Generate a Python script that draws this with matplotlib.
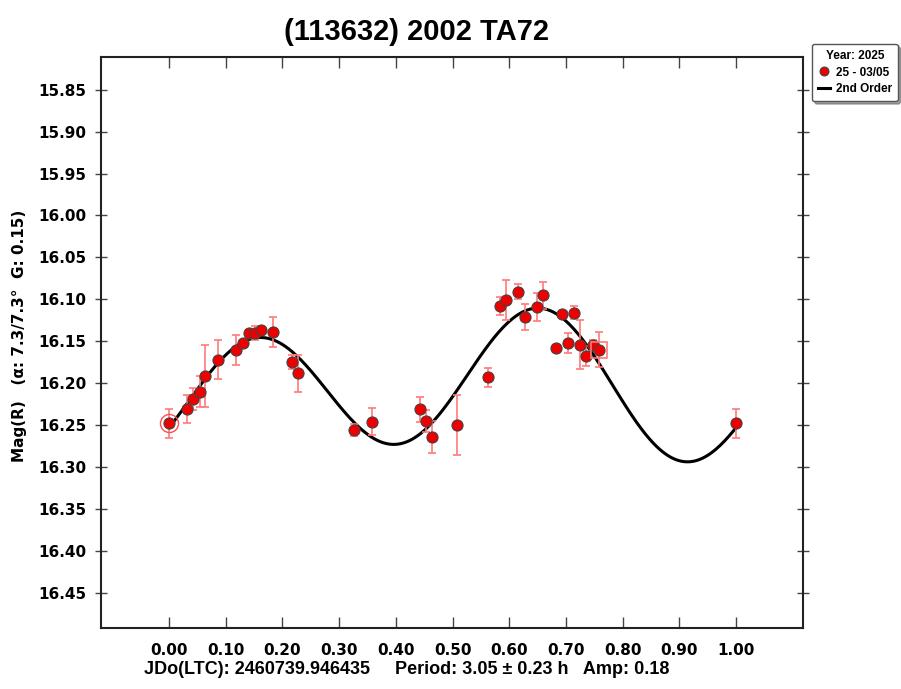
import matplotlib
matplotlib.use("Agg")
import matplotlib.pyplot as plt
import numpy as np

# ── data ──────────────────────────────────────────────────────────────────────
phase = np.array([
    0.000, 0.031, 0.043, 0.054, 0.064, 0.086, 0.118, 0.130, 0.141, 0.152,
    0.163, 0.184, 0.217, 0.228, 0.326, 0.358, 0.442, 0.454, 0.464, 0.508,
    0.562, 0.584, 0.595, 0.616, 0.627, 0.649, 0.660, 0.682, 0.693, 0.703,
    0.714, 0.725, 0.736, 0.747, 0.758, 1.000,
])
mag = np.array([
    16.248, 16.231, 16.219, 16.210, 16.191, 16.172, 16.160, 16.152, 16.140, 16.140,
    16.136, 16.139, 16.175, 16.188, 16.256, 16.246, 16.231, 16.245, 16.264, 16.250,
    16.193, 16.108, 16.101, 16.091, 16.121, 16.109, 16.095, 16.158, 16.118, 16.152,
    16.116, 16.154, 16.168, 16.154, 16.160, 16.248,
])
err = np.array([
    0.017, 0.017, 0.013, 0.018, 0.037, 0.023, 0.018, 0.004, 0.003, 0.008,
    0.004, 0.018, 0.008, 0.022, 0.007, 0.016, 0.015, 0.013, 0.019, 0.036,
    0.011, 0.011, 0.024, 0.009, 0.016, 0.017, 0.016, 0.003, 0.003, 0.012,
    0.008, 0.029, 0.012, 0.006, 0.021, 0.017,
])
xticks = np.arange(0.0, 1.01, 0.1)
yticks = np.arange(15.85, 16.46, 0.05)

title = "(113632) 2002 TA72"
ylabel = "Mag(R)   (α: 7.3/7.3°  G: 0.15)"
footer = "JDo(LTC): 2460739.946435     Period: 3.05 ± 0.23 h   Amp: 0.18"

# ── 2nd order Fourier fit of the points (last point repeats the first) ───────
fit_mask = phase < 1.0
w = 2 * np.pi * phase[fit_mask]
A = np.column_stack([np.ones_like(w), np.cos(w), np.sin(w), np.cos(2 * w), np.sin(2 * w)])
coef, *_ = np.linalg.lstsq(A, mag[fit_mask], rcond=None)
px = np.linspace(0.0, 1.0, 400)
wp = 2 * np.pi * px
fit_curve = (coef[0] + coef[1] * np.cos(wp) + coef[2] * np.sin(wp)
             + coef[3] * np.cos(2 * wp) + coef[4] * np.sin(2 * wp))

# ── figure ───────────────────────────────────────────────────────────────────
fig = plt.figure(figsize=(9.01, 6.89), dpi=100)
ax = fig.add_axes([101 / 901, 1 - 628 / 689, 702 / 901, (628 - 57) / 689])

ln, = ax.plot(px, fit_curve, color="black", lw=2.2, zorder=2)
ax.errorbar(phase, mag, yerr=err, fmt="none", ecolor="#ff7a7a", elinewidth=1.2,
            capsize=3, capthick=1.2, zorder=3)
pts, = ax.plot(phase, mag, "o", color="#ee0000", mec="#444444", mew=0.8, ms=8,
               zorder=4)
# first point circled, last point of the session boxed
ax.plot(phase[0], mag[0], "o", mfc="none", mec="#ff5050", mew=1.0, ms=13, zorder=4)
ax.plot(phase[-2], mag[-2], "s", mfc="none", mec="#ff7a7a", mew=1.2, ms=12, zorder=4)

ax.set_xlim(-0.12, 1.118)
ax.set_ylim(16.492, 15.811)
ax.set_xticks(xticks)
ax.set_yticks(yticks)
ax.set_xticklabels([f"{v:.2f}" for v in xticks])
ax.set_yticklabels([f"{v:.2f}" for v in yticks])
ax.tick_params(axis="both", which="both", labelsize=11, width=1.0, color="#444444")
ax.tick_params(axis="y", direction="inout", length=9, left=True, right=True, pad=6)
ax.tick_params(axis="x", direction="in", length=8, top=True, bottom=True, pad=11)
for lab in ax.get_xticklabels() + ax.get_yticklabels():
    lab.set_fontweight("bold")
for sp in ax.spines.values():
    sp.set_linewidth(1.5)
    sp.set_color("#222222")

fig.text(416 / 901, 1 - 32 / 689, title, ha="center", va="center",
         fontsize=21, fontweight="bold", family="Liberation Sans")
fig.text(20 / 901, 1 - 336 / 689, ylabel, ha="center", va="center", rotation=90,
         fontsize=11, fontweight="bold")
fig.text(144 / 901, 1 - 670 / 689, footer, ha="left", va="center",
         fontsize=13, fontweight="bold", family="Liberation Sans")

font = {"family": "Liberation Sans", "weight": "bold", "size": 8.5}
leg = ax.legend([pts, ln], ["25 - 03/05", "2nd Order"],
                loc="upper left", bbox_to_anchor=(812 / 901, 1 - 44 / 689),
                bbox_transform=fig.transFigure, borderaxespad=0,
                title="Year: 2025", prop=font, title_fontproperties=font,
                frameon=True, fancybox=True, shadow=True, handlelength=1.0,
                handletextpad=0.5, borderpad=0.5, labelspacing=0.4,
                markerscale=0.8, edgecolor="#555555", framealpha=1)
leg.get_frame().set_linewidth(1.0)

fig.savefig("out.png", dpi=100)
